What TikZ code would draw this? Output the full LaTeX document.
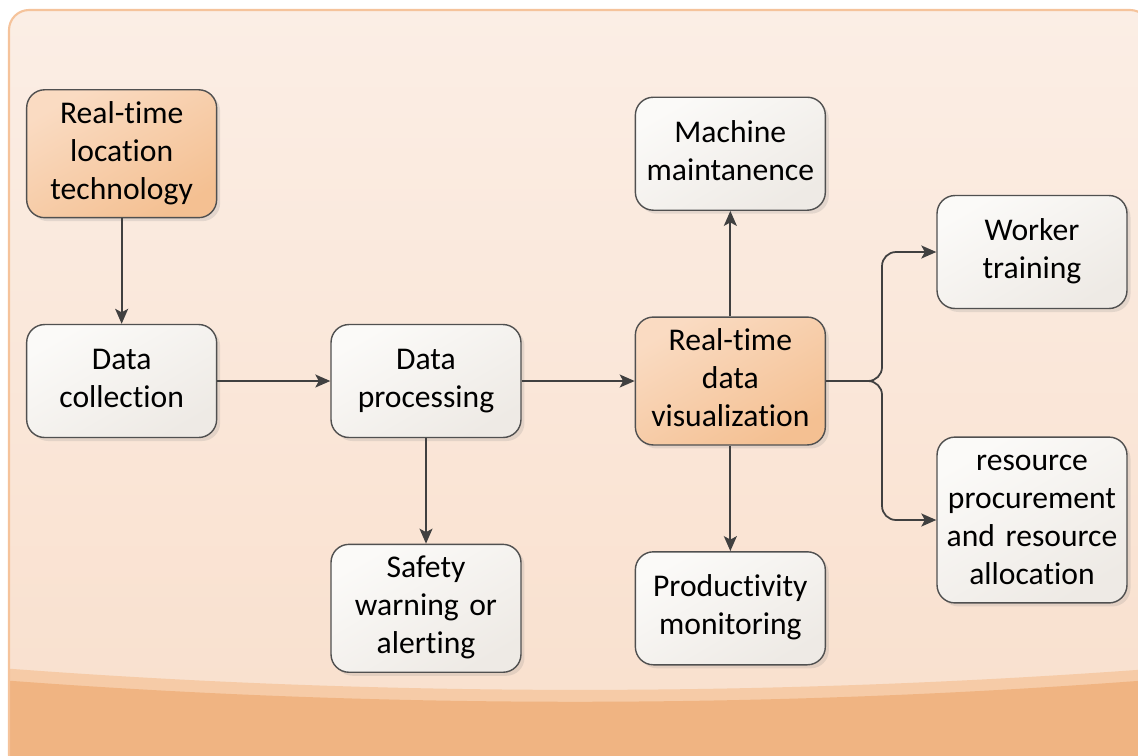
\documentclass[tikz,border=0pt]{standalone}
\usepackage{fontspec}
\setmainfont[Ligatures={NoCommon,NoContextual}]{Carlito}
\usepackage{xcolor}
\usepackage{tikz}
\usetikzlibrary{matrix,arrows.meta,positioning,shadows}

\definecolor{frametop}{HTML}{FBEEE5}
\definecolor{framebot}{HTML}{F9DFCC}
\definecolor{frameline}{HTML}{F5C39B}
\definecolor{bandlight}{HTML}{F6CBA7}
\definecolor{banddark}{HTML}{F0B482}
\definecolor{boxline}{HTML}{505050}
\definecolor{linkgrey}{HTML}{404040}
\definecolor{paletop}{HTML}{FBFAF8}
\definecolor{palebot}{HTML}{EEEAE5}
\definecolor{hottop}{HTML}{FADBC2}
\definecolor{hotbot}{HTML}{F4C092}

\begin{document}
\begin{tikzpicture}[x=0.02cm, y=-0.02cm,
  box/.style={draw=boxline, line width=0.8pt, rounded corners=0.36cm,
    top color=paletop, bottom color=palebot, shading angle=30,
    text width=3.6cm, align=center, inner xsep=0.1cm, inner ysep=4pt,
    minimum height=2.26cm, font=\fontsize{18}{21.6}\selectfont,
    execute at begin node=\strut, execute at end node=\strut,
    drop shadow={shadow xshift=0.07cm, shadow yshift=-0.07cm, opacity=0.18}},
  hot/.style={top color=hottop, bottom color=hotbot, shading angle=30},
  link/.style={color=linkgrey, line width=1pt,
    -{Stealth[length=0.3cm, width=0.26cm, inset=0.07cm]}}]

 % panel and the bottom band
 \clip (0,0) rectangle (1138,755);
 \fill [top color=frametop, bottom color=framebot, rounded corners=0.4cm]
  (9,10) rectangle (1150,775);
 \begin{scope}
  \clip [rounded corners=0.4cm] (9,10) rectangle (1150,775);
  \fill [bandlight] (0,668) .. controls (383,697) and (767,697) .. (1150,669)
   -- (1150,775) -- (0,775) -- cycle;
  \fill [banddark] (0,680) .. controls (383,709) and (767,709) .. (1150,680)
   -- (1150,775) -- (0,775) -- cycle;
 \end{scope}
 \draw [frameline, line width=1.2pt, rounded corners=0.4cm]
  (9,10) rectangle (1150,775);

 \matrix (m) at (426,381) [matrix of nodes, row sep=1.96cm, column sep=2.26cm,
   nodes={box, anchor=center}]
  {
    |[hot]| {Real-time\\location\\technology} & & {Machine\\maintanence} \\
    {Data\\collection} & {Data\\processing} & |[hot]| {Real-time\\data\\visualization} \\
    & {Safety\\warning or\\alerting} & {Productivity\\monitoring} \\
  };

 \node [box] (train) at (1032,252) {Worker\\training};
 \node [box] (supply) at (1032,520) {resource\\procurement\\and resource\\allocation};

 \coordinate [right=1.12cm of m-2-3.east] (fork);

 \path [link]
  (m-1-1) edge (m-2-1)
  (m-2-1) edge (m-2-2)
  (m-2-2) edge (m-2-3)
          edge (m-3-2)
  (m-2-3) edge (m-1-3)
          edge (m-3-3)
 ;
 \draw [link, rounded corners=0.28cm] (m-2-3.east) -- (fork) |- (train);
 \draw [link, rounded corners=0.28cm] (m-2-3.east) -- (fork) |- (supply);
\end{tikzpicture}
\end{document}
